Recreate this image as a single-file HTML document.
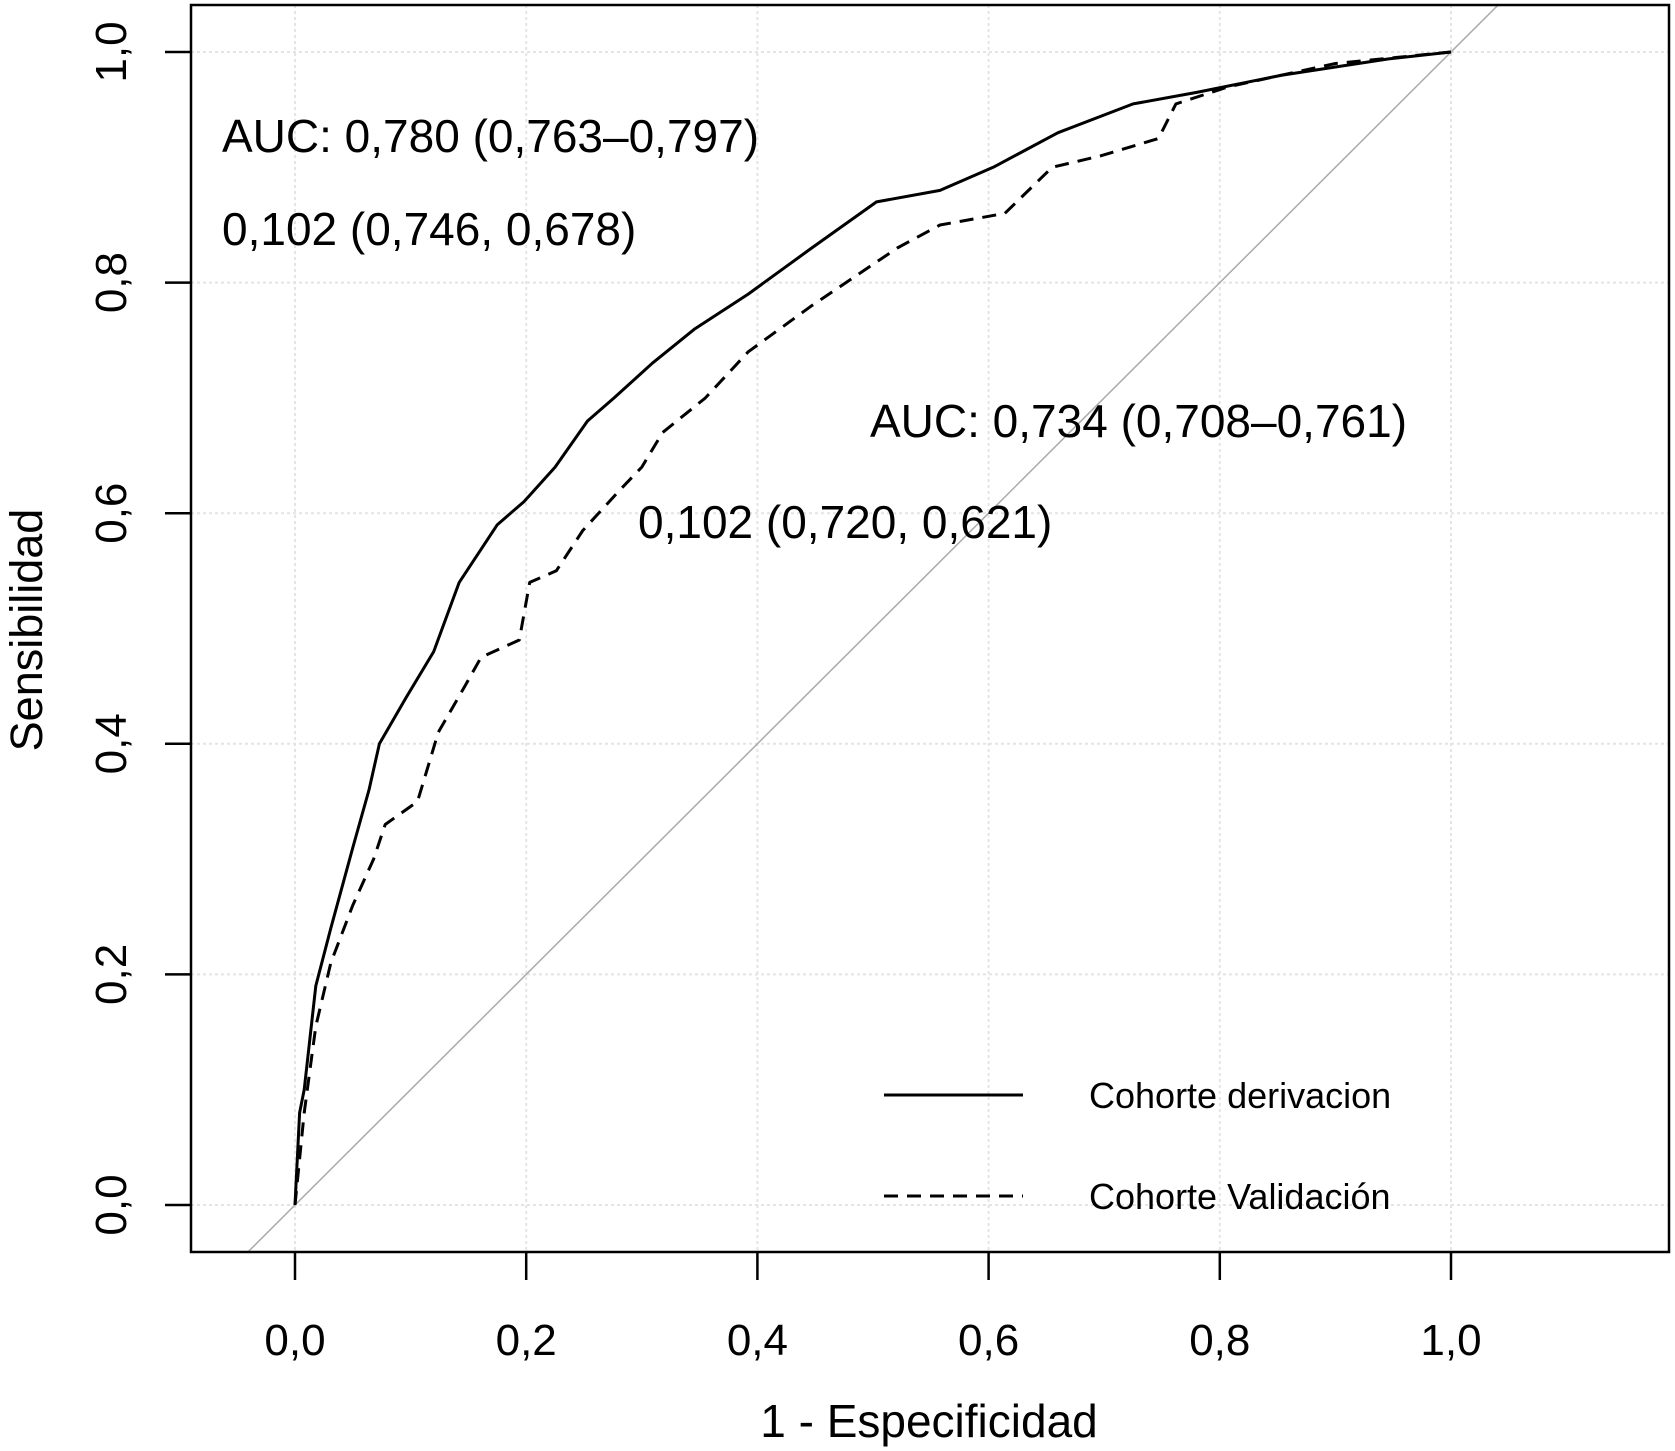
<!DOCTYPE html>
<html><head><meta charset="utf-8"><style>
html,body{margin:0;padding:0;background:#fff;overflow:hidden;width:1675px;height:1451px;}
svg{display:block;font-family:"Liberation Sans",sans-serif;}
</style></head><body>
<svg id="chart" width="1675" height="1451" viewBox="0 0 1675 1451">
<defs><clipPath id="plotclip"><rect x="191" y="5" width="1478" height="1247"/></clipPath></defs>
<g id="grid"></g>
<line id="diag" stroke="#aaa" stroke-width="1.5" clip-path="url(#plotclip)"/>
<g id="series" clip-path="url(#plotclip)"></g>
<rect x="191" y="5" width="1478" height="1247" fill="none" stroke="#000" stroke-width="2.5"/>
<g id="xticks"></g>
<g id="yticks"></g>
<text x="929" y="1437" font-size="46" text-anchor="middle">1 - Especificidad</text>
<text transform="translate(42,630) rotate(-90)" font-size="45" text-anchor="middle">Sensibilidad</text>
<text x="222" y="152" font-size="46">AUC: 0,780 (0,763–0,797)</text>
<text x="222" y="245" font-size="46">0,102 (0,746, 0,678)</text>
<text x="870" y="437" font-size="46">AUC: 0,734 (0,708–0,761)</text>
<text x="638" y="538" font-size="46">0,102 (0,720, 0,621)</text>
<g>
<line x1="884" y1="1095" x2="1023" y2="1095" stroke="#000" stroke-width="3"/>
<text x="1089" y="1108" font-size="36">Cohorte  derivacion</text>
<line x1="884" y1="1196" x2="1023" y2="1196" stroke="#000" stroke-width="3" stroke-dasharray="14,9"/>
<text x="1089" y="1209" font-size="36">Cohorte Validación</text>
</g>
</svg>
<script>
const derivFpr=[0,0.004,0.008,0.018,0.031,0.05,0.064,0.073,0.096,0.12,0.142,0.175,0.198,0.225,0.253,0.276,0.309,0.346,0.392,0.447,0.503,0.558,0.604,0.66,0.725,0.78,0.854,0.946,1];
const derivTpr=[0,0.08,0.10,0.19,0.24,0.31,0.36,0.40,0.44,0.48,0.54,0.59,0.61,0.64,0.68,0.70,0.73,0.76,0.79,0.83,0.87,0.88,0.90,0.93,0.955,0.965,0.98,0.994,1];
const validFpr=[0,0.008,0.018,0.031,0.05,0.068,0.078,0.106,0.124,0.147,0.161,0.194,0.203,0.226,0.249,0.281,0.3,0.318,0.355,0.392,0.447,0.521,0.558,0.614,0.655,0.697,0.747,0.762,0.808,0.9,1];
const validTpr=[0,0.08,0.155,0.21,0.26,0.30,0.33,0.35,0.41,0.45,0.475,0.49,0.54,0.55,0.585,0.62,0.64,0.67,0.70,0.74,0.78,0.83,0.85,0.86,0.90,0.91,0.925,0.955,0.97,0.99,1];
const tickVals=[0,0.2,0.4,0.6,0.8,1.0];
const tickLabels=["0,0","0,2","0,4","0,6","0,8","1,0"];
const NS="http://www.w3.org/2000/svg";
const sx=v=>295+v*1156, sy=v=>1205-v*1153;
const grid=document.getElementById('grid'),xt=document.getElementById('xticks'),yt=document.getElementById('yticks');
function mk(tag,attrs,parent){const e=document.createElementNS(NS,tag);for(const k in attrs)e.setAttribute(k,attrs[k]);parent.appendChild(e);return e;}
tickVals.forEach((v,i)=>{
 const g1=mk('line',{x1:sx(v),x2:sx(v),y1:5,y2:1252,stroke:'#e4e4e4','stroke-width':2,'stroke-dasharray':'3,3'},grid);
 
 
 const g2=mk('line',{x1:191,x2:1669,y1:sy(v),y2:sy(v),stroke:'#e4e4e4','stroke-width':2,'stroke-dasharray':'3,3'},grid);
 
 
 const a=mk('line',{x1:sx(v),x2:sx(v),y1:1252,y2:1280,stroke:'#000','stroke-width':2.5},xt);
 
 
 const t=mk('text',{x:sx(v),y:1355,'font-size':44,'text-anchor':'middle'},xt);t.textContent=tickLabels[i];
 
 
 const b=mk('line',{x1:165,x2:191,y1:sy(v),y2:sy(v),stroke:'#000','stroke-width':2.5},yt);
 
 
 const u=mk('text',{transform:`translate(126,${sy(v)}) rotate(-90)`,'font-size':44,'text-anchor':'middle'},yt);u.textContent=tickLabels[i];
 
 
});
const d=document.getElementById('diag');
d.setAttribute('x1',sx(-0.5));d.setAttribute('y1',sy(-0.5));d.setAttribute('x2',sx(1.5));d.setAttribute('y2',sy(1.5));
const ser=document.getElementById('series');
function path(xs,ys,dash,name){
 const p=mk('path',{d:xs.map((x,i)=>(i?'L':'M')+sx(x).toFixed(1)+','+sy(ys[i]).toFixed(1)).join(' '),fill:'none',stroke:'#000','stroke-width':3,'stroke-linejoin':'round'},ser);
 if(dash)p.setAttribute('stroke-dasharray',dash);
 
 
}
path(derivFpr,derivTpr,null,'roc-curve-derivation');
path(validFpr,validTpr,'14,9','roc-curve-validation');
</script>
</body></html>
